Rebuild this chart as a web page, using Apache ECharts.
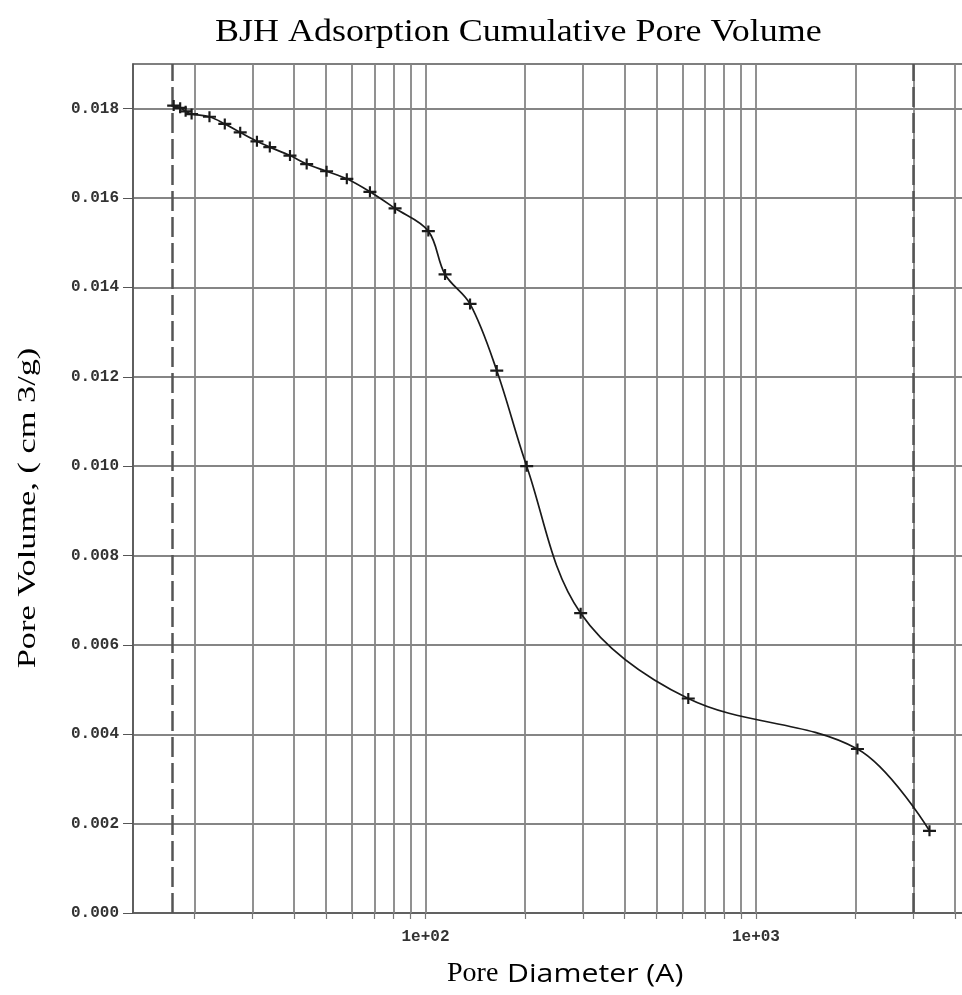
<!DOCTYPE html>
<html>
<head>
<meta charset="utf-8">
<script src="https://cdn.jsdelivr.net/npm/echarts@6/dist/echarts.min.js"></script>
<style>
html,body{margin:0;padding:0;background:#fff;overflow:hidden;}
#chart{width:962px;height:995px;}
</style>
</head>
<body>
<div id="chart"></div>
<script>
// Pore diameter (A) and cumulative pore volume (cm3/g)
const poreDiameter = [17.3, 18.1, 18.8, 19.6, 22.2, 24.7, 27.5, 30.9, 33.8, 38.9, 43.7, 50.2, 57.8, 67.9, 80.9, 102, 114.6, 136.4, 164.3, 202.4, 294.8, 624, 2028, 3350];
const poreVolume   = [0.01807, 0.01802, 0.01794, 0.01788, 0.01782, 0.01766, 0.01747, 0.01727, 0.01714, 0.01695, 0.01676, 0.01660, 0.01643, 0.01614, 0.01577, 0.01526, 0.01429, 0.01363, 0.01214, 0.01000, 0.00671, 0.00480, 0.00367, 0.00184];

// vertical grid lines of the log axis
const gridDiameters = [20, 30, 40, 50, 60, 70, 80, 90, 100, 200, 300, 400, 500, 600, 700, 800, 900, 1000, 2000, 3000, 4000];
// dashed limit lines
const dashedDiameters = [17.1, 3000];
// labelled x ticks
const xLabelValues = [100, 1000];
const xLabelTexts = ['1e+02', '1e+03'];
// y tick labels
const yTickValues = [0, 0.002, 0.004, 0.006, 0.008, 0.010, 0.012, 0.014, 0.016, 0.018];

const titleText = 'BJH Adsorption Cumulative Pore Volume';
const yNameText = 'Pore Volume, ( cm 3/g)';
const xNameSerif = 'Pore';
const xNameSans = 'Diameter (A)';

const chart = echarts.init(document.getElementById('chart'), null, {renderer: 'canvas', width: 962, height: 995});

const plusPath = 'path://M0,4H12V6H0Z M5,0H7V10H5Z';

const option = {
  backgroundColor: '#ffffff',
  animation: false,
  graphic: [
    {
      type: 'text',
      x: 215, y: 17,
      scaleX: 1.16,
      style: {text: titleText, fontFamily: 'Liberation Serif', fontSize: 31, fill: '#000', textAlign: 'left', textVerticalAlign: 'top'}
    },
    {
      type: 'text',
      x: 28, y: 508,
      rotation: Math.PI / 2,
      scaleX: 1.32,
      style: {text: yNameText, fontFamily: 'Liberation Serif', fontSize: 26, fill: '#000', textAlign: 'center', textVerticalAlign: 'middle'}
    },
    {
      type: 'text',
      x: 447, y: 974,
      style: {text: xNameSerif, fontFamily: 'Liberation Serif', fontSize: 28, fill: '#000', textAlign: 'left', textVerticalAlign: 'middle'}
    },
    {
      type: 'text',
      x: 507, y: 975,
      scaleX: 1.21,
      style: {text: xNameSans, fontFamily: 'Open Sans', fontSize: 25, fill: '#000', textAlign: 'left', textVerticalAlign: 'middle'}
    }
  ],
  grid: {
    left: 133, right: -20, top: 64, bottom: 82,
    outerBoundsMode: 'none',
    containLabel: false,
    show: true, borderColor: '#555', borderWidth: 1.5, backgroundColor: 'transparent'
  },
  xAxis: {
    type: 'log',
    logBase: 10,
    min: 13.03,
    max: 4830,
    axisLine: {show: true, lineStyle: {color: '#555', width: 1.5}},
    axisTick: {show: true, length: 6, customValues: gridDiameters, lineStyle: {color: '#777', width: 1.2}},
    axisLabel: {
      show: true,
      customValues: xLabelValues,
      margin: 16,
      fontFamily: 'Liberation Mono',
      fontWeight: 'bold',
      fontSize: 16,
      color: '#333',
      formatter: function (v) {
        for (let i = 0; i < xLabelValues.length; i++) {
          if (Math.abs(v - xLabelValues[i]) / xLabelValues[i] < 1e-6) return xLabelTexts[i];
        }
        return '';
      }
    },
    splitLine: {show: false},
    minorTick: {show: false},
    minorSplitLine: {show: false}
  },
  yAxis: {
    type: 'value',
    min: 0,
    max: 0.019,
    interval: 0.002,
    axisLine: {show: true, lineStyle: {color: '#555', width: 1.5}},
    axisTick: {show: true, length: 10, customValues: yTickValues, lineStyle: {color: '#555', width: 1}},
    axisLabel: {
      customValues: yTickValues,
      margin: 14,
      fontFamily: 'Liberation Mono',
      fontWeight: 'bold',
      fontSize: 16,
      color: '#333',
      formatter: function (v) {
        const k = Math.round(v * 10000);
        return (k % 20 === 0) ? v.toFixed(3) : '';
      }
    },
    splitLine: {show: true, lineStyle: {color: '#858585', width: 1.8}}
  },
  series: [
    {
      name: 'grid',
      type: 'line',
      z: 1,
      silent: true,
      data: poreDiameter.map((d, i) => [d, poreVolume[i]]),
      showSymbol: false,
      symbol: 'none',
      lineStyle: {width: 0, opacity: 0},
      markLine: {
        silent: true,
        symbol: ['none', 'none'],
        label: {show: false},
        animation: false,
        lineStyle: {color: '#858585', width: 1.8, type: 'solid'},
        data: gridDiameters.map(d => ({xAxis: d}))
      }
    },
    {
      name: 'limits',
      type: 'line',
      z: 2,
      silent: true,
      data: poreDiameter.map((d, i) => [d, poreVolume[i]]),
      showSymbol: false,
      symbol: 'none',
      lineStyle: {width: 0, opacity: 0},
      markLine: {
        silent: true,
        symbol: ['none', 'none'],
        label: {show: false},
        animation: false,
        lineStyle: {color: '#555', width: 2.5, type: [20, 6]},
        data: dashedDiameters.map(d => ({xAxis: d}))
      }
    },
    {
      name: 'BJH Adsorption',
      type: 'line',
      z: 5,
      data: poreDiameter.map((d, i) => [d, poreVolume[i]]),
      smooth: 0.35,
      symbol: plusPath,
      symbolSize: [13, 11],
      showSymbol: true,
      itemStyle: {color: '#1a1a1a', borderWidth: 0},
      lineStyle: {color: '#1a1a1a', width: 1.7}
    }
  ]
};

chart.setOption(option);
</script>
</body>
</html>
